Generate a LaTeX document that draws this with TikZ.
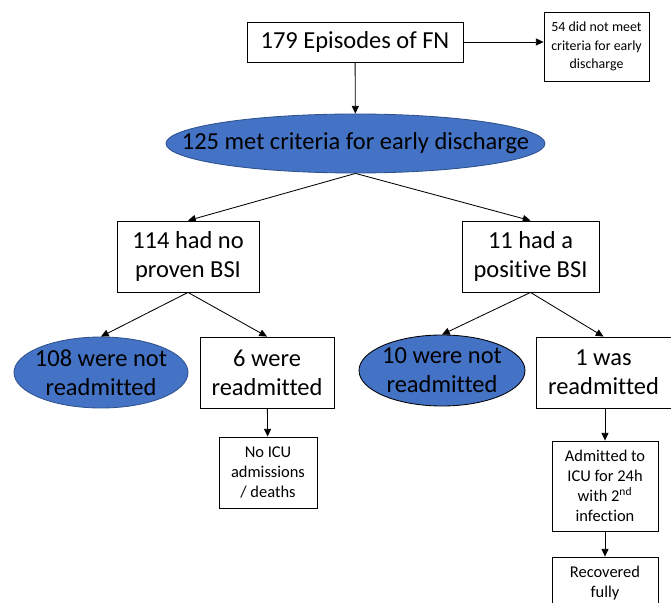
\documentclass[tikz,border=0pt]{standalone}
\usepackage{fontspec}
\setmainfont{Carlito}[Ligatures=NoCommon]
\usepackage{tikz}
\usetikzlibrary{arrows.meta, positioning, shapes.geometric}
\definecolor{OfficeBlue}{HTML}{4472C4}
\definecolor{OfficeEdge}{HTML}{2F528F}
\tikzset{
  bigtext/.style={font=\fontsize{17.4}{20.6}\selectfont, align=center},
  midtext/.style={font=\fontsize{11.7}{14.2}\selectfont, align=center},
  smalltext/.style={font=\fontsize{9.9}{13}\selectfont, align=center},
  flowbox/.style={draw, line width=0.6pt, rectangle, inner sep=0pt},
  blueoval/.style={ellipse, fill=OfficeBlue, draw=OfficeEdge, line width=0.6pt, inner sep=0pt},
  flowarrow/.style={line width=0.6pt, -{Triangle[length=5.5pt,width=5pt]}}
}

\begin{document}
\begin{tikzpicture}
            % Page frame
            \clip (0,0) rectangle (16.775,-15.075);

            % Top row
            \node[flowbox, bigtext, minimum width=5.4cm, minimum height=1cm] (fn) at (8.875,-1.05) {179 Episodes of FN};
            \node[flowbox, smalltext, minimum width=2.625cm, minimum height=1.725cm] (notmet) at (14.9125,-1.1625) {54 did not meet\\criteria for early\\discharge};
            \node[blueoval, minimum width=9.475cm, minimum height=1.475cm, label={[bigtext]center:125 met criteria for early discharge}] (met) at (8.8875,-3.5875) {};

            % BSI split
            \node[flowbox, bigtext, minimum width=3.55cm, minimum height=1.775cm] (nobsi) at (4.7,-6.4125) {114 had no\\proven BSI};
            \node[flowbox, bigtext, minimum width=3.425cm, minimum height=1.775cm] (posbsi) at (13.2625,-6.4125) {11 had a\\positive BSI};

            % Readmission
            \node[blueoval, minimum width=4.35cm, minimum height=1.775cm, label={[bigtext]center:108 were not\\readmitted}] (notre1) at (2.525,-9.3125) {};
            \node[flowbox, bigtext, minimum width=3.35cm, minimum height=1.775cm] (re6) at (6.675,-9.3125) {6 were\\readmitted};
            \node[blueoval, draw=black, minimum width=4.15cm, minimum height=1.775cm, label={[bigtext]center:10 were not\\readmitted}] (notre2) at (11.05,-9.2625) {};
            \node[flowbox, bigtext, minimum width=3.375cm, minimum height=1.775cm] (re1) at (15.0875,-9.3125) {1 was\\readmitted};

            % Outcomes
            \node[flowbox, midtext, minimum width=2.45cm, minimum height=1.775cm] (noicu) at (6.7,-11.8125) {No ICU\\admissions\\ / deaths};
            \node[flowbox, midtext, minimum width=2.65cm, minimum height=2.25cm] (icu) at (15.125,-12.15) {Admitted to\\ICU for 24h\\with 2\textsuperscript{nd}\\infection};
            \node[flowbox, midtext, minimum width=2.65cm, minimum height=1.75cm, text depth=0.5cm] (recov) at (15.125,-14.8) {Recovered\\fully};

            % Connectors
            \draw[flowarrow] (fn.east) -- (fn.east -| notmet.west);
            \draw[flowarrow] (fn) -- (met);
            \draw[flowarrow] (met.south) -- (nobsi.north);
            \draw[flowarrow] (met.south) -- (posbsi.north);
            \draw[flowarrow] (nobsi.south) -- (notre1.north);
            \draw[flowarrow] (nobsi.south) -- (re6.north);
            \draw[flowarrow] (posbsi.south) -- (notre2.north);
            \draw[flowarrow] (posbsi.south) -- (re1.north);
            \draw[flowarrow] (re6) -- (noicu);
            \draw[flowarrow] (re1.south -| icu) -- (icu);
            \draw[flowarrow] (icu) -- (recov);
        \end{tikzpicture}
\end{document}
